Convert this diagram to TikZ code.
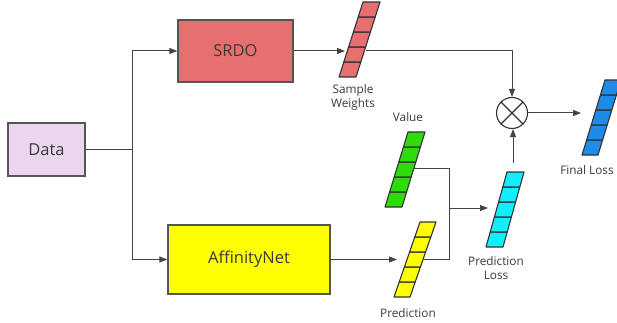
\documentclass[tikz,border=0pt]{standalone}
\usepackage{fontspec}
\setmainfont{Open Sans}
\usetikzlibrary{arrows.meta}
\definecolor{datafill}{HTML}{EBD5EF}
\definecolor{srdofill}{HTML}{E67070}
\definecolor{affill}{HTML}{FFFF00}
\definecolor{greenfill}{HTML}{2EDB0B}
\definecolor{cyanfill}{HTML}{11EEFF}
\definecolor{bluefill}{HTML}{1E8BE8}
\definecolor{edge}{HTML}{555555}
\definecolor{wire}{HTML}{444444}
\definecolor{txt}{HTML}{3A3A3A}
\tikzset{
  box/.style={draw=edge, line width=1.3pt, inner sep=0pt, text=txt, font=\fontsize{16.5}{18}\selectfont},
  wirel/.style={draw=wire, line width=1pt},
  arr/.style={wirel, -{Triangle[length=8pt,width=6pt]}},
  vcell/.style={draw=black!80, line width=1.1pt, line join=round},
  lbl/.style={text=txt, font=\fontsize{11.8}{14}\selectfont, align=center, inner sep=0pt},
}
\newcommand{\vecbar}[5]{% x, y (bottom-left), slant per cell, width, colour
  \foreach \i in {0,...,4}{
    \filldraw[vcell, fill=#5] ({#1+\i*#3},{#2-\i*15}) -- ++(#4,0) -- ++(#3,-15) -- ++(-#4,0) -- cycle;
  }
}
\begin{document}
\begin{tikzpicture}[x=1pt,y=-1pt]
\useasboundingbox (0,0) rectangle (617,323);
% boxes
\node[box, fill=datafill, minimum width=77pt, minimum height=53pt] (data) at (46.5,149.5) {Data};
\node[box, fill=srdofill, minimum width=115pt, minimum height=62pt] (srdo) at (235.5,51) {SRDO};
\node[box, fill=affill, minimum width=162pt, minimum height=69pt] (aff) at (249,259.5) {AffinityNet};
% vectors
\vecbar{339}{77}{4.8}{17}{srdofill}
\vecbar{385}{207}{4.6}{17}{greenfill}
\vecbar{394}{297}{5.2}{16}{affill}
\vecbar{486}{247}{4.2}{17}{cyanfill}
\vecbar{582}{155}{4.6}{16}{bluefill}
% multiply node
\node[draw=black!80, line width=1.1pt, circle, minimum size=31pt, inner sep=0pt] (mul) at (512,113) {};
\draw[black!80, line width=1.1pt] (mul.north east) -- (mul.south west) (mul.north west) -- (mul.south east);
% labels
\node[lbl] (swl) at (353,97) {Sample\\Weights};
\node[lbl] (vall) at (408,117) {Value};
\node[lbl] (predl) at (408,313) {Prediction};
\node[lbl] (pll) at (496,268.5) {Prediction\\Loss};
\node[lbl] (fll) at (587,170) {Final Loss};
% coordinates
\coordinate (j) at (132,149.5);
\coordinate (swin) at (345,51);
\coordinate (swout) at (366,51);
\coordinate (swturn) at (512,51);
\coordinate (gout) at (413,168);
\coordinate (yin) at (397,259.5);
\coordinate (yout) at (423,259.5);
\coordinate (mj) at (449,208);
\coordinate (cin) at (488,208);
\coordinate (cout) at (513,163);
\coordinate (flin) at (581,113);
% connectors
\draw[wirel] (data.east) -- (j);
\draw[wirel] (132,51) -- (132,259.5);
\draw[arr] (j) |- (srdo.west);
\draw[arr] (j) |- (aff.west);
\draw[arr] (srdo.east) -- (swin);
\draw[arr] (swout) -- (swturn) -- (mul.north);
\draw[arr] (aff.east |- yin) -- (yin);
\draw[wirel] (gout) -| (mj |- yout) -- (yout);
\draw[arr] (mj) -- (cin);
\draw[arr] (cout) -- (cout |- mul.south);
\draw[arr] (mul.east) -- (flin);
\end{tikzpicture}
\end{document}
